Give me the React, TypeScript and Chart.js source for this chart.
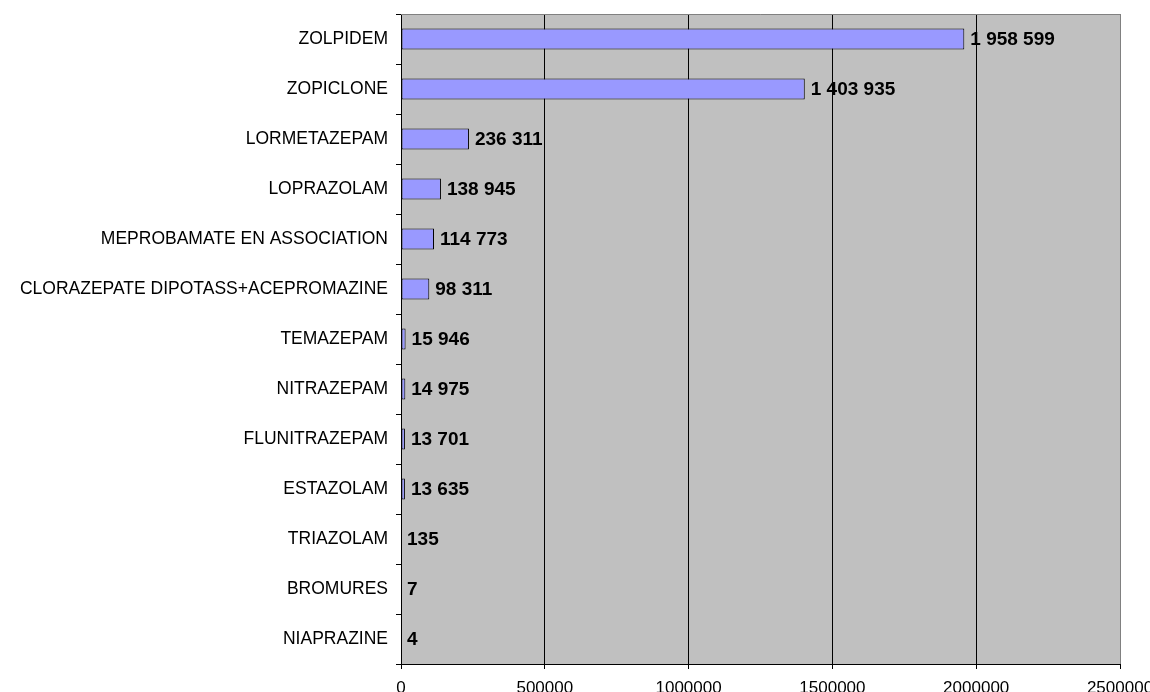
import React, { useEffect, useRef } from "react";
import { Chart, registerables } from "chart.js";

Chart.register(...registerables);

const categories = [
  "ZOLPIDEM",
  "ZOPICLONE",
  "LORMETAZEPAM",
  "LOPRAZOLAM",
  "MEPROBAMATE EN ASSOCIATION",
  "CLORAZEPATE DIPOTASS+ACEPROMAZINE",
  "TEMAZEPAM",
  "NITRAZEPAM",
  "FLUNITRAZEPAM",
  "ESTAZOLAM",
  "TRIAZOLAM",
  "BROMURES",
  "NIAPRAZINE",
];

const values = [1958599, 1403935, 236311, 138945, 114773, 98311, 15946, 14975, 13701, 13635, 135, 7, 4];

const xTicks = [0, 500000, 1000000, 1500000, 2000000, 2500000];

const FONT = "'Liberation Sans', Arial, sans-serif";

function fmt(v: number): string {
  return String(v).replace(/\B(?=(\d{3})+(?!\d))/g, " ");
}

const plotPlugin = {
  id: "plotDecor",
  beforeDraw(chart: any) {
    const { ctx, chartArea } = chart;
    ctx.save();
    ctx.fillStyle = "#C0C0C0";
    ctx.fillRect(chartArea.left, chartArea.top, chartArea.right - chartArea.left, chartArea.bottom - chartArea.top);
    ctx.restore();
  },
  afterDraw(chart: any) {
    const { ctx, chartArea } = chart;
    ctx.save();
    ctx.strokeStyle = "#808080";
    ctx.lineWidth = 1;
    ctx.beginPath();
    ctx.moveTo(chartArea.left, Math.round(chartArea.top) + 0.5);
    ctx.lineTo(Math.round(chartArea.right) + 0.5, Math.round(chartArea.top) + 0.5);
    ctx.lineTo(Math.round(chartArea.right) + 0.5, chartArea.bottom);
    ctx.stroke();
    // data labels
    const meta = chart.getDatasetMeta(0);
    ctx.fillStyle = "#000";
    ctx.font = `bold 19px ${FONT}`;
    ctx.textAlign = "left";
    ctx.textBaseline = "middle";
    meta.data.forEach((bar: any, i: number) => {
      const v = chart.data.datasets[0].data[i] as number;
      ctx.fillText(fmt(v), Math.max(bar.x, chartArea.left) + 6, bar.y + 1);
    });
    ctx.restore();
  },
};

export default function App() {
  const ref = useRef<HTMLCanvasElement | null>(null);

  useEffect(() => {
    document.body.style.margin = "0";
    if (!ref.current) return;
    const chart = new Chart(ref.current, {
      type: "bar",
      data: {
        labels: categories,
        datasets: [
          {
            data: values,
            backgroundColor: "#9999FF",
            borderColor: "#000000",
            borderWidth: 1,
            borderSkipped: false,
            barPercentage: 0.42,
            categoryPercentage: 1,
          },
        ],
      },
      options: {
        indexAxis: "y",
        animation: false,
        responsive: false,
        maintainAspectRatio: false,
        layout: { padding: { top: 14, right: 30, left: 0, bottom: 0 } },
        plugins: {
          legend: { display: false },
          tooltip: { enabled: false },
        },
        scales: {
          x: {
            type: "linear",
            min: 0,
            max: 2500000,
            afterBuildTicks(scale: any) {
              scale.ticks = xTicks.map((v) => ({ value: v }));
            },
            afterFit(scale: any) {
              scale.height = 28;
              scale.paddingLeft = 0;
              scale.paddingRight = 0;
            },
            ticks: {
              color: "#000",
              font: { family: FONT, size: 17 },
              padding: 9,
              maxRotation: 0,
              autoSkip: false,
              callback: (v: any) => String(v),
            },
            grid: {
              color: (c: any) => (c.tick && c.tick.value === 2500000 ? "#808080" : "#000000"),
              lineWidth: 1,
              drawTicks: true,
              tickLength: 5,
              tickColor: "#000000",
            },
            border: { display: true, color: "#000000", width: 1 },
          },
          y: {
            type: "category",
            afterFit(scale: any) {
              scale.width = 401;
              scale.paddingTop = 0;
              scale.paddingBottom = 0;
            },
            ticks: {
              color: "#000",
              font: { family: FONT, size: 17.5 },
              padding: 8,
              autoSkip: false,
            },
            grid: {
              offset: true,
              drawOnChartArea: false,
              drawTicks: true,
              tickLength: 5,
              color: "#000000",
              tickColor: "#000000",
            },
            border: { display: true, color: "#000000", width: 1 },
          },
        },
      },
      plugins: [plotPlugin],
    });
    return () => chart.destroy();
  }, []);

  return (
    <div style={{ position: "absolute", left: 0, top: 0, width: 1150, height: 692 }}>
      <canvas ref={ref} width={1150} height={692} style={{ width: 1150, height: 692 }} />
    </div>
  );
}
